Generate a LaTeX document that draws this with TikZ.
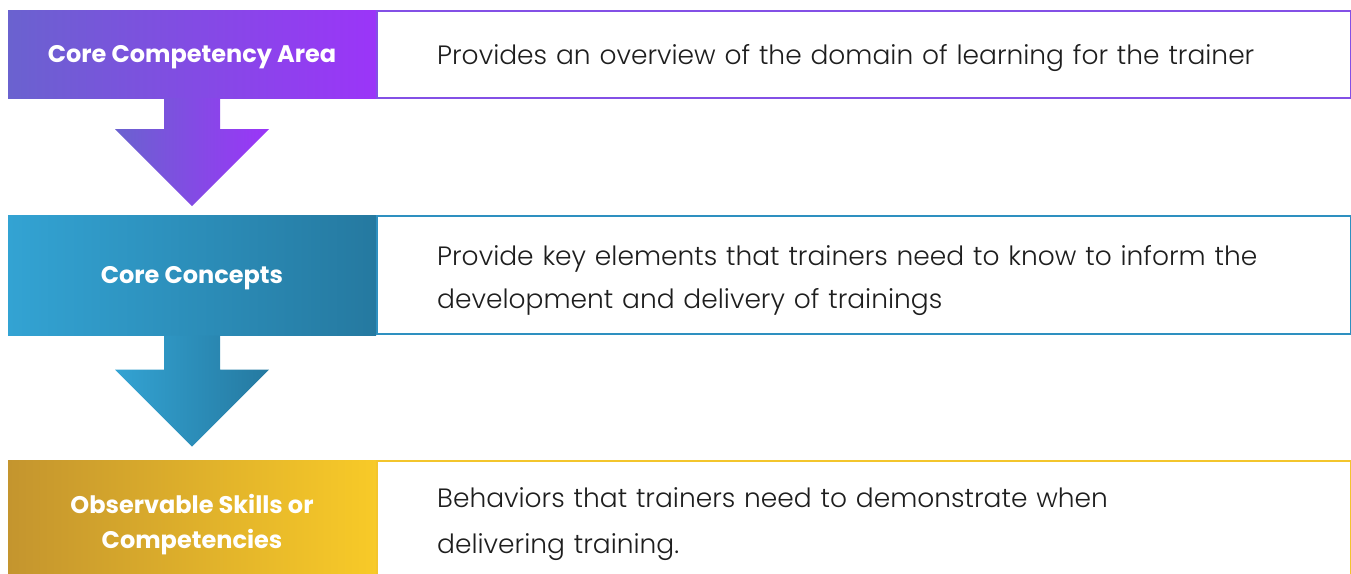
\documentclass[tikz,border=0pt]{standalone}
\usepackage{fontspec}
\setmainfont{Poppins}
\newfontfamily\thinfont{Poppins}[UprightFont=* Light]
\usetikzlibrary{positioning}

\definecolor{purpleL}{HTML}{6A62CF}
\definecolor{purpleR}{HTML}{9B35F8}
\definecolor{purpleM}{HTML}{8350E6}
\definecolor{blueL}{HTML}{33A3D3}
\definecolor{blueR}{HTML}{2579A0}
\definecolor{blueM}{HTML}{2E90C0}
\definecolor{goldL}{HTML}{C4952E}
\definecolor{goldR}{HTML}{F8CA28}
\definecolor{goldM}{HTML}{F3C52C}
\definecolor{bodytext}{HTML}{1E1E1E}

\tikzset{
	tag/.style={minimum width=368pt, inner sep=0pt, text=white, align=center,
		text depth=0pt, font=\bfseries\fontsize{24}{35}\selectfont},
	info/.style={draw, line width=2pt, minimum width=974pt, text width=854pt,
		inner xsep=60pt, inner ysep=0pt, align=left, text=bodytext,
		font=\thinfont\fontsize{26.5}{43}\selectfont},
}

\begin{document}
\begin{tikzpicture}[x=1pt, y=1pt]
	\useasboundingbox (0,0) rectangle (1351,-573);
	\clip (0,0) rectangle (1351,-573);

	\node[tag, minimum height=88pt, left color=purpleL, right color=purpleR] (area) at (192,-54) {Core Competency Area};
	\node[tag, minimum height=120pt, left color=blueL, right color=blueR] (concepts) [below=117pt of area] {Core Concepts};
	\node[tag, minimum height=122pt, left color=goldL, right color=goldR] (skills) [below=125pt of concepts] {Observable Skills or\\Competencies};

	% text depths pull the text a little lower in each box
	\node[info, draw=purpleM, minimum height=87pt, text depth=-2pt] (areainfo) [right=0pt of area] {Provides an overview of the domain of learning for the trainer};
	\node[info, draw=blueM, minimum height=118pt, text depth=40pt] (conceptsinfo) [right=0pt of concepts] {Provide key elements that trainers need to know to inform the\\development and delivery of trainings};
	\node[info, draw=goldM, minimum height=122pt, text depth=48pt] (skillsinfo) [right=0pt of skills] {Behaviors that trainers need to demonstrate when\\[3pt]delivering training.};

	% block arrows between the levels
	\shade[left color=purpleL, right color=purpleR] (area.south) ++(-28,0) -- ++(0,-31) -- ++(-49,0) -- ++(77,-77) -- ++(77,77) -- ++(-49,0) -- ++(0,31) -- cycle;
	\shade[left color=blueL, right color=blueR] (concepts.south) ++(-28,0) -- ++(0,-34) -- ++(-49,0) -- ++(77,-77) -- ++(77,77) -- ++(-49,0) -- ++(0,34) -- cycle;
\end{tikzpicture}
\end{document}
